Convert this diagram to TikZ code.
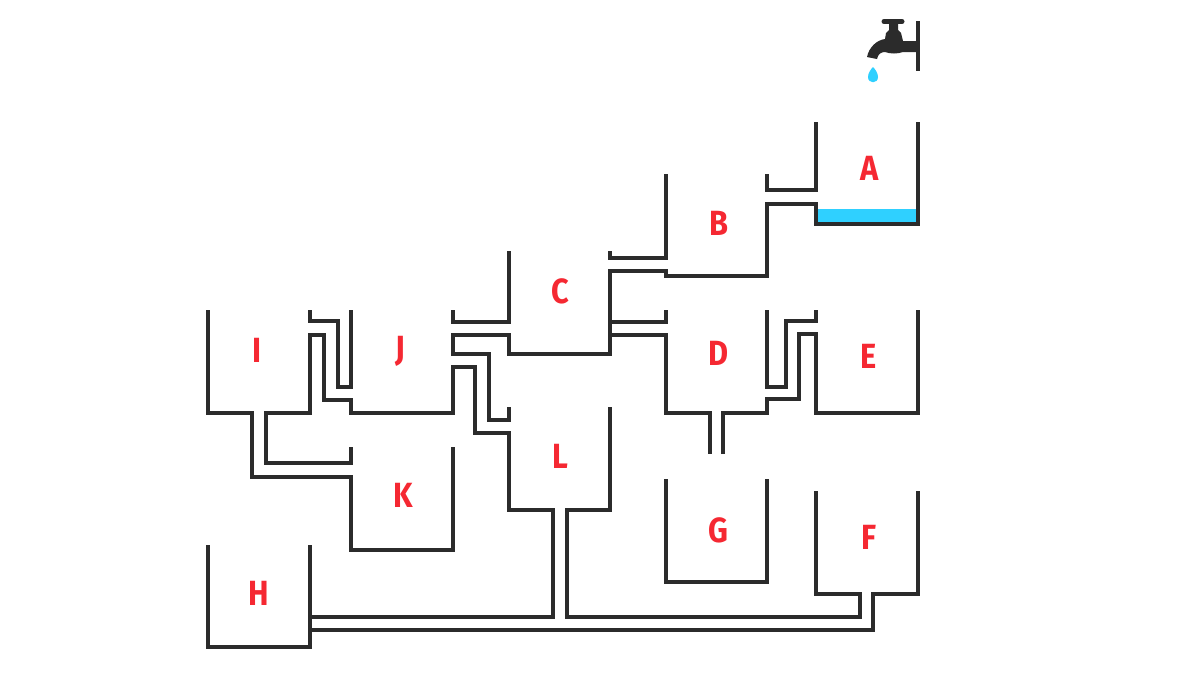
\documentclass[tikz,border=0pt]{standalone}
\usepackage{fontspec}
\setmainfont{Fira Sans}
\usepackage{xcolor}
\definecolor{pipegray}{RGB}{43, 43, 43}
\definecolor{letterred}{RGB}{245, 40, 50}
\definecolor{watercyan}{RGB}{47, 208, 255}

\begin{document}
\begin{tikzpicture}[x=1pt, y=-1pt]
    \tikzstyle{wall} = [draw=pipegray, line width=4.8pt, line join=miter]
    \tikzstyle{letter} = [text=letterred, font=\bfseries\fontsize{35}{35}\selectfont, xscale=0.88, inner sep=0pt]
    \useasboundingbox (0,0) rectangle (1200,675);

    \fill[watercyan] (816,209) rectangle (918,224);
    \fill[watercyan] (873,67) .. controls (875,69) and (878,73) .. (878,77) .. controls (878,84) and (868,84) .. (868,77) .. controls (868,73) and (871,69) .. (873,67) -- cycle;

    \node [letter] (tankA) at (869.5,168) {A};
    \node [letter] (tankB) at (718.5,223) {B};
    \node [letter] (tankC) at (560.5,291) {C};
    \node [letter] (tankD) at (718.5,353) {D};
    \node [letter] (tankE) at (868.5,356) {E};
    \node [letter] (tankF) at (868.5,537) {F};
    \node [letter] (tankG) at (718.5,530) {G};
    \node [letter] (tankH) at (258.5,593) {H};
    \node [letter] (tankI) at (257.5,350) {I};
    \node [letter] (tankJ) at (400.5,351) {J};
    \node [letter] (tankK) at (403.5,495) {K};
    \node [letter] (tankL) at (560.5,456) {L};

    % tap
    \draw[wall] (918,21) -- (918,71);
    \draw[pipegray, line width=5pt, line cap=round] (884,21.5) -- (902,21.5);
    \fill[pipegray] (918,41) -- (903,41) -- (901,33) -- (898,30) -- (898,22) -- (889,22) -- (889,30) -- (886,33) -- (885,39) .. controls (877,40) and (869,47) .. (867,57) -- (877,59) .. controls (878,54) and (881,52) .. (885,52) .. controls (890,54) and (898,54) .. (903,52) -- (918,52) -- cycle;

    % upper pipes
    \draw[wall] (816,122) -- (816,190) -- (767,190) -- (767,174);
    \draw[wall] (918,122) -- (918,224) -- (816,224) -- (816,204) -- (767,204) -- (767,276) -- (666,276) -- (666,271) -- (610,271) -- (610,354) -- (509,354) -- (509,335) -- (453,335) -- (453,354) -- (489,354) -- (489,420) -- (509,420) -- (509,407);
    \draw[wall] (666,174) -- (666,258) -- (610,258) -- (610,251);
    \draw[wall] (509,251) -- (509,322) -- (453,322) -- (453,310);
    \draw[wall] (610,322) -- (666,322) -- (666,310);
    \draw[wall] (610,335) -- (666,335) -- (666,413) -- (710,413) -- (710,454);
    \draw[wall] (723,454) -- (723,413) -- (767,413) -- (767,399) -- (799,399) -- (799,334) -- (816,334) -- (816,413) -- (918,413) -- (918,310);
    \draw[wall] (767,310) -- (767,387) -- (786,387) -- (786,321) -- (816,321) -- (816,310);

    % left pipes
    \draw[wall] (208,310) -- (208,413) -- (252,413) -- (252,477) -- (351,477) -- (351,550) -- (453,550) -- (453,447);
    \draw[wall] (351,447) -- (351,463) -- (266,463) -- (266,413) -- (310,413) -- (310,335) -- (324,335) -- (324,400) -- (351,400) -- (351,413) -- (453,413) -- (453,367) -- (475,367) -- (475,433) -- (509,433) -- (509,510) -- (553,510) -- (553,617) -- (310,617);
    \draw[wall] (310,310) -- (310,321) -- (338,321) -- (338,387) -- (351,387) -- (351,310);

    % lower pipes
    \draw[wall] (610,407) -- (610,510) -- (567,510) -- (567,617) -- (860,617) -- (860,594) -- (816,594) -- (816,491);
    \draw[wall] (918,491) -- (918,594) -- (873,594) -- (873,630) -- (310,630);
    \draw[wall] (208,545) -- (208,647) -- (310,647) -- (310,545);
    \draw[wall] (666,479) -- (666,582) -- (767,582) -- (767,479);
\end{tikzpicture}
\end{document}
